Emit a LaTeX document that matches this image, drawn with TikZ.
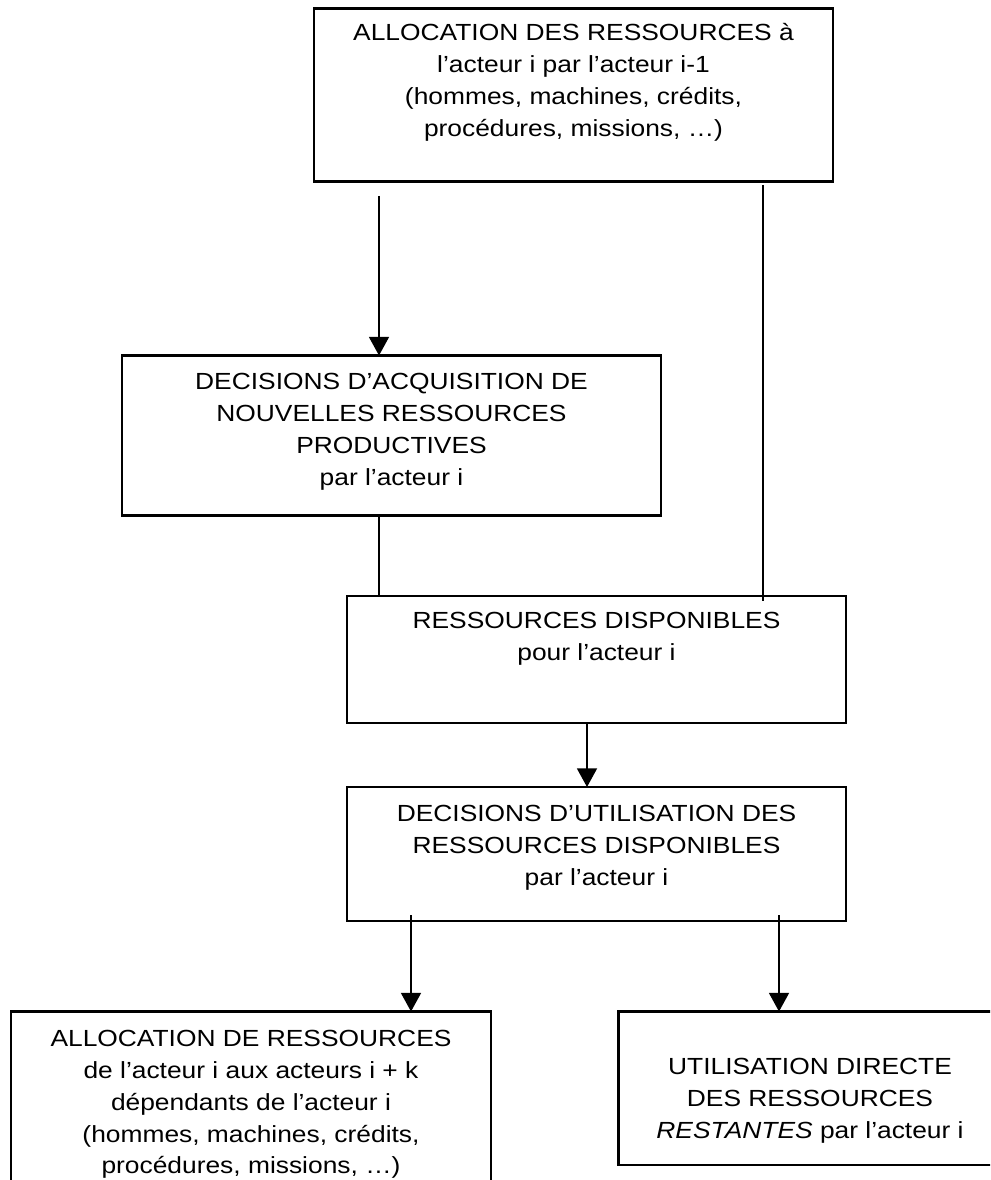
\documentclass[tikz,border=0pt]{standalone}
\usepackage{fontspec}
\setmainfont{Liberation Sans}[FakeStretch=1.13]
\usetikzlibrary{arrows.meta}
\begin{document}
\begin{tikzpicture}[x=0.75pt,y=-0.75pt,
  boxnode/.style={draw, line width=1.6pt, inner sep=0pt, outer sep=0pt, anchor=north west},
  txt/.style={anchor=north, inner sep=0pt, align=center, font=\fontsize{17.5pt}{23.8pt}\selectfont},
  conn/.style={line width=1.35pt},
  arr/.style={conn, -{Triangle[width=15pt,length=14pt]}}]
\clip (0,0) rectangle (990,1180);
\useasboundingbox (0,0) rectangle (990,1180);
\fill[white] (0,0) rectangle (990,1180);

% boxes
\node[boxnode, minimum width=389.25pt, minimum height=129.75pt] (b1) at (314,8.5) {};
\node[boxnode, minimum width=404.25pt, minimum height=120pt] (b2) at (122,355.5) {};
\node[boxnode, minimum width=374.25pt, minimum height=95.25pt] (b3) at (347,596) {};
\node[boxnode, minimum width=374.25pt, minimum height=100.5pt] (b4) at (347,787) {};
\node[boxnode, minimum width=360pt, minimum height=150pt] (b5) at (11,1011.5) {};
\node[boxnode, minimum width=287.25pt, minimum height=115.125pt] (b6) at (618.5,1011.5) {};

% texts
\node[txt] (t1) at (573.5,18.5) {\strut ALLOCATION DES RESSOURCES à\\\strut l’acteur i par l’acteur i-1\\\strut (hommes, machines, crédits,\\\strut procédures, missions, …)};
\node[txt] (t2) at (391.5,367.5) {\strut DECISIONS D’ACQUISITION DE\\\strut NOUVELLES RESSOURCES\\\strut PRODUCTIVES\\\strut par l’acteur i};
\node[txt] (t3) at (596.5,606.5) {\strut RESSOURCES DISPONIBLES\\\strut pour l’acteur i};
\node[txt] (t4) at (596.5,799.5) {\strut DECISIONS D’UTILISATION DES\\\strut RESSOURCES DISPONIBLES\\\strut par l’acteur i};
\node[txt] (t5) at (251,1024.5) {\strut ALLOCATION DE RESSOURCES\\\strut de l’acteur i aux acteurs i + k\\\strut dépendants de l’acteur i\\\strut (hommes, machines, crédits,\\\strut procédures, missions, …)};
\node[txt] (t6) at (810,1052.5) {\strut UTILISATION DIRECTE\\\strut DES RESSOURCES\\\strut \textit{RESTANTES} par l’acteur i};

% connectors
\coordinate (s1) at (379,196);
\draw[arr] (s1) -- (s1 |- b2.north);
\coordinate (r1) at (763,185);
\coordinate (r2) at (763,601);
\draw[conn] (r1) -- (r2);
\draw[conn] (b2.south -| s1) -- (b3.north -| s1);
\coordinate (m) at (587,700);
\draw[arr] (b3.south -| m) -- (b4.north -| m);
\coordinate (d1) at (411,915);
\draw[arr] (d1) -- (d1 |- b5.north);
\coordinate (d2) at (779,915);
\draw[arr] (d2) -- (d2 |- b6.north);
\end{tikzpicture}
\end{document}
